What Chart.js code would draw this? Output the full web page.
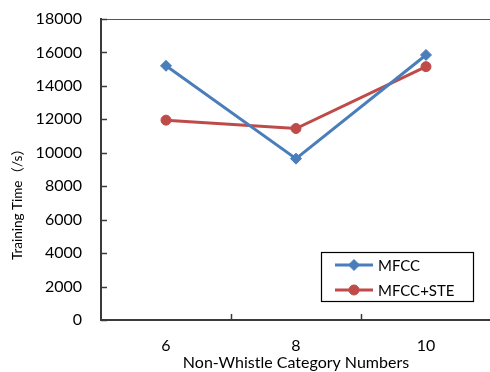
<!DOCTYPE html>
<html>
<head>
<meta charset="utf-8">
<script src="https://cdn.jsdelivr.net/npm/chart.js@4.4.1/dist/chart.umd.min.js"></script>
<style>
  html, body { margin: 0; padding: 0; background: #ffffff; overflow: hidden; }
  #wrap { width: 490px; height: 372px; }
</style>
</head>
<body>
<div id="wrap"><canvas id="c" width="490" height="372"></canvas></div>
<script>
// Training time (seconds) per number of non-whistle categories
const categories = ['6', '8', '10'];
const mfcc = [15200, 9650, 15850];
const mfccSte = [11950, 11450, 15150];
const seriesNames = ['MFCC', 'MFCC+STE'];
const yTickValues = [0, 2000, 4000, 6000, 8000, 10000, 12000, 14000, 16000, 18000];
const xTitle = 'Non-Whistle Category Numbers';
const yTitle = 'Training Time（/s）';

const BLUE = '#4A7EBB';
const RED = '#BE4B48';
const AXIS = '#3a3a3a';
const FONT = "Lato, 'Noto Sans CJK SC', sans-serif";
const PLOT_RIGHT = 491; // the plot runs slightly past the right edge of the canvas

Chart.defaults.font.family = FONT;
Chart.defaults.color = '#000000';

function drawMarker(ctx, style, x, y, r, color) {
  ctx.fillStyle = color;
  ctx.strokeStyle = color;
  ctx.lineWidth = 1;
  ctx.beginPath();
  if (style === 'rectRot') {
    ctx.moveTo(x - r, y);
    ctx.lineTo(x, y - r);
    ctx.lineTo(x + r, y);
    ctx.lineTo(x, y + r);
    ctx.closePath();
  } else {
    ctx.arc(x, y, r, 0, Math.PI * 2);
  }
  ctx.fill();
  ctx.stroke();
}

// Extend the plot area past the canvas edge on the right
const widenPlot = {
  id: 'widenPlot',
  afterLayout(chart) {
    const a = chart.chartArea;
    const x = chart.scales.x;
    a.right = PLOT_RIGHT;
    a.width = a.right - a.left;
    x.right = PLOT_RIGHT;
    x.width = x.right - x.left;
    x.configure();
  }
};

// Frame, inward tick marks, rotated y title and boxed legend
const decorations = {
  id: 'decorations',
  afterDraw(chart) {
    const { ctx, chartArea: a, scales } = chart;
    const x = scales.x, y = scales.y;
    ctx.save();

    // top frame line
    ctx.strokeStyle = '#555555';
    ctx.lineWidth = 1;
    ctx.beginPath();
    ctx.moveTo(a.left, a.top + 0.5);
    ctx.lineTo(a.right, a.top + 0.5);
    ctx.stroke();

    // y tick marks pointing into the plot
    ctx.strokeStyle = AXIS;
    ctx.lineWidth = 1.5;
    y.ticks.forEach((t, i) => {
      const py = Math.round(y.getPixelForTick(i)) + 0.5;
      ctx.beginPath();
      ctx.moveTo(a.left, py);
      ctx.lineTo(a.left + 6, py);
      ctx.stroke();
    });

    // x tick marks at category boundaries
    for (let i = 1; i < categories.length; i++) {
      const px = Math.round(x.getPixelForValue(i - 0.5)) + 0.5;
      ctx.beginPath();
      ctx.moveTo(px, a.bottom);
      ctx.lineTo(px, a.bottom - 6);
      ctx.stroke();
    }

    // y axis title
    ctx.save();
    ctx.translate(18, 201);
    ctx.rotate(-Math.PI / 2);
    ctx.fillStyle = '#000000';
    ctx.font = '13.5px ' + FONT;
    ctx.textAlign = 'center';
    ctx.textBaseline = 'middle';
    ctx.fillText(yTitle, 0, 0);
    ctx.restore();

    // legend box
    const bx = 321.5, by = 252.5, bw = 152, bh = 49;
    ctx.fillStyle = '#ffffff';
    ctx.fillRect(bx, by, bw, bh);
    ctx.strokeStyle = '#000000';
    ctx.lineWidth = 1.2;
    ctx.strokeRect(bx, by, bw, bh);

    chart.data.datasets.forEach((ds, i) => {
      const ly = 265 + i * 25;
      ctx.strokeStyle = ds.borderColor;
      ctx.lineWidth = 3;
      ctx.beginPath();
      ctx.moveTo(335, ly);
      ctx.lineTo(373, ly);
      ctx.stroke();
      drawMarker(ctx, ds.pointStyle, 354, ly, ds.pointRadius, ds.borderColor);
      ctx.fillStyle = '#000000';
      ctx.font = '15px ' + FONT;
      ctx.textAlign = 'left';
      ctx.textBaseline = 'middle';
      ctx.fillText(ds.label, 378, ly + 1);
    });

    ctx.restore();
  }
};

new Chart(document.getElementById('c'), {
  type: 'line',
  data: {
    labels: categories,
    datasets: [
      {
        label: seriesNames[0],
        data: mfcc,
        borderColor: BLUE,
        backgroundColor: BLUE,
        borderWidth: 3,
        pointStyle: 'rectRot',
        pointRadius: 5.5,
        pointBorderWidth: 1,
        pointHoverRadius: 5.5,
        tension: 0
      },
      {
        label: seriesNames[1],
        data: mfccSte,
        borderColor: RED,
        backgroundColor: RED,
        borderWidth: 3,
        pointStyle: 'circle',
        pointRadius: 5,
        pointBorderWidth: 1,
        pointHoverRadius: 5,
        tension: 0
      }
    ]
  },
  options: {
    responsive: false,
    animation: false,
    devicePixelRatio: 1,
    layout: { padding: { top: 19, right: 0, left: 0, bottom: 0 } },
    plugins: {
      legend: { display: false },
      tooltip: { enabled: false }
    },
    scales: {
      x: {
        type: 'category',
        offset: true,
        grid: { display: true, drawOnChartArea: false, drawTicks: false, offset: true, color: 'rgba(0,0,0,0)' },
        border: { display: true, color: AXIS, width: 2 },
        ticks: { font: { size: 16 }, padding: 16, color: '#000000' },
        title: { display: true, text: xTitle, font: { size: 16 }, color: '#000000', padding: { top: 0, bottom: 0 } },
        afterFit(scale) { scale.height = 52; scale.paddingLeft = 0; scale.paddingRight = 0; }
      },
      y: {
        min: 0,
        max: 18000,
        afterBuildTicks(scale) { scale.ticks = yTickValues.map(v => ({ value: v })); },
        grid: { display: true, drawOnChartArea: false, drawTicks: false, color: 'rgba(0,0,0,0)' },
        border: { display: true, color: AXIS, width: 2 },
        ticks: {
          font: { size: 16 },
          padding: 19,
          color: '#000000',
          callback: v => String(v)
        },
        afterFit(scale) { scale.width = 101; scale.paddingTop = 0; scale.paddingBottom = 0; }
      }
    }
  },
  plugins: [widenPlot, decorations]
});
</script>
</body>
</html>
